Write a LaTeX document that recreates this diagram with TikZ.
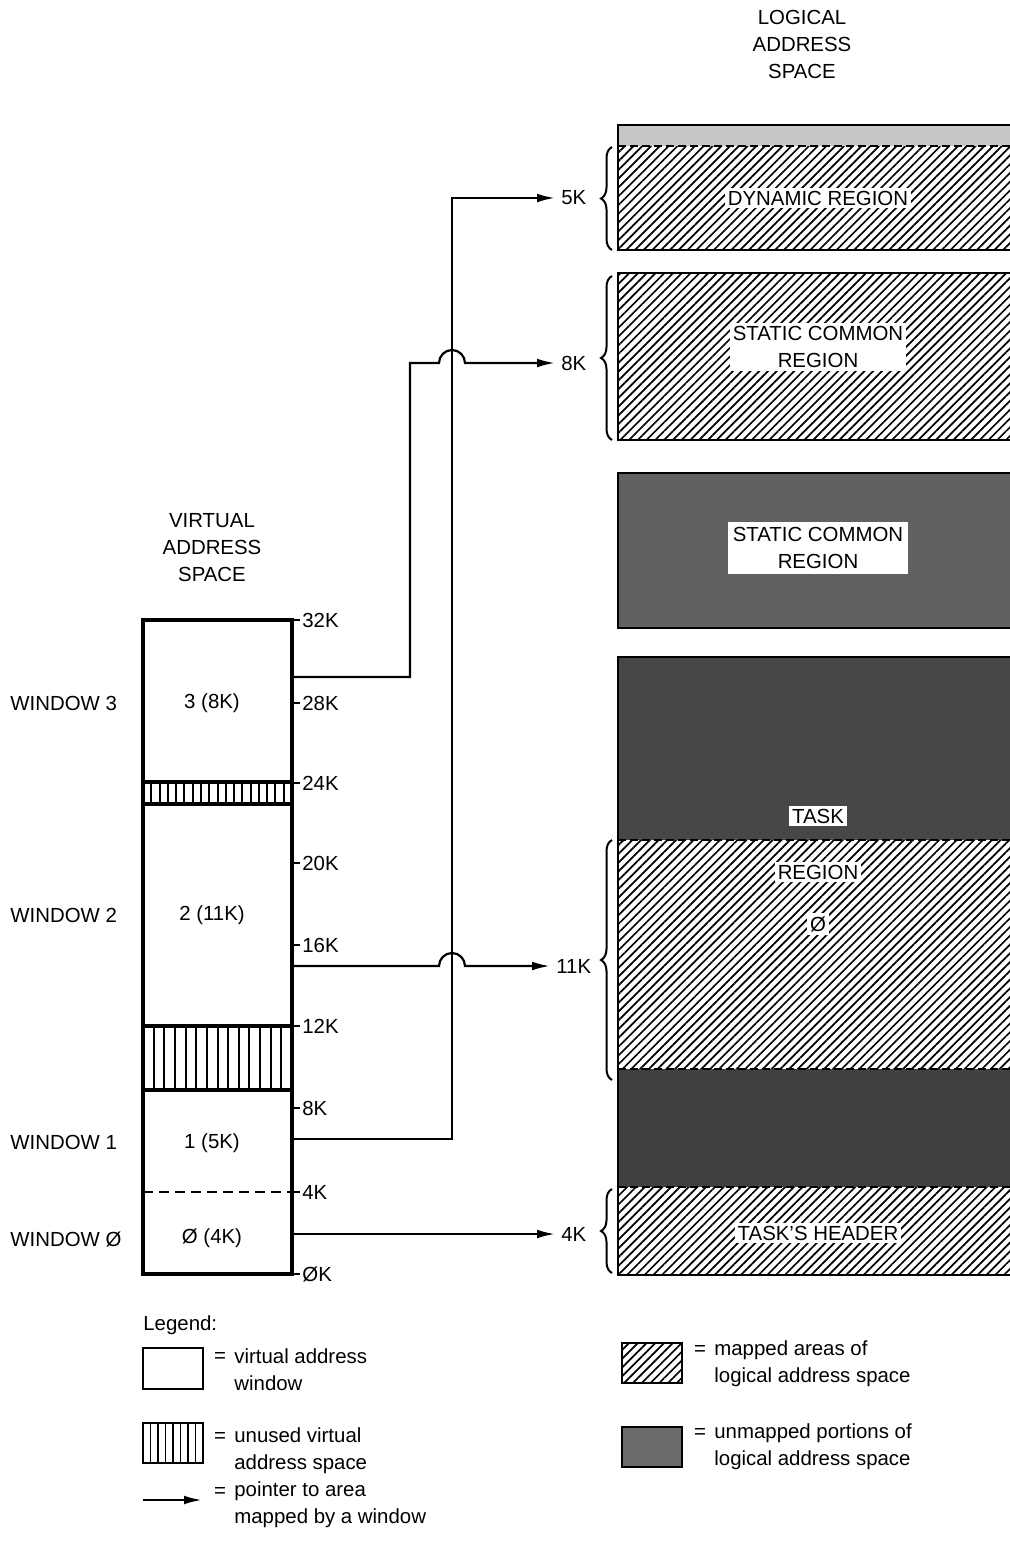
\documentclass[tikz,border=0pt]{standalone}
\usepackage{fontspec}
\setmainfont{Liberation Sans}
\usetikzlibrary{arrows.meta,patterns.meta,decorations.pathreplacing}
\begin{document}
\begin{tikzpicture}[x=0.5pt,y=-0.5pt,
  font=\fontsize{10.2}{13.5}\selectfont,
  every node/.style={inner sep=1pt},
  hatch/.style={pattern={Lines[angle=45,distance=3.1pt,line width=0.85pt]}},
  ptr/.style={line width=1.1pt,-{Latex[length=9pt,width=4.4pt]}},
  wire/.style={line width=1.1pt},
  vbox/.style={line width=1.6pt},
  lbox/.style={line width=1.4pt},
  onwhite/.style={fill=white,inner sep=1.5pt},
  brc/.style={decorate,decoration={brace,amplitude=5.5pt},line width=1pt},
  bnd/.style={dashed,dash pattern=on 4pt off 2pt,line width=1.2pt},
  klbl/.style={anchor=west,inner sep=3pt},
  tick/.style={anchor=west,inner sep=1pt}]
\useasboundingbox (0,0) rectangle (1010,1560);

% ---------- titles ----------
\node[align=center] (las) at (802,44) {LOGICAL\\ADDRESS\\SPACE};
\node[align=center] (vas) at (212,548) {VIRTUAL\\ADDRESS\\SPACE};

% ---------- logical address space ----------
% box 1: dynamic region
\fill[black!22] (618,125) rectangle (1010,146);
\fill[hatch] (618,146) rectangle (1010,250);
\draw[bnd] (618,146) -- (1010,146);
\draw[lbox] (1010,125) -- (618,125) -- (618,250) -- (1010,250);
\node[onwhite] (dyn) at (818,198) {DYNAMIC REGION};

% box 2: static common region (mapped)
\fill[hatch] (618,273) rectangle (1010,440);
\draw[lbox] (1010,273) -- (618,273) -- (618,440) -- (1010,440);
\node[onwhite,align=center] (scr1) at (818,347) {STATIC COMMON\\REGION};

% box 3: static common region (unmapped)
\fill[black!62] (618,473) rectangle (1010,628);
\draw[lbox] (1010,473) -- (618,473) -- (618,628) -- (1010,628);
\node[onwhite,align=center,inner sep=2.5pt] (scr2) at (818,548) {STATIC COMMON\\REGION};

% box 4: task region
\fill[black!72] (618,657) rectangle (1010,840);
\fill[hatch] (618,840) rectangle (1010,1069);
\fill[black!75] (618,1069) rectangle (1010,1187);
\fill[hatch] (618,1187) rectangle (1010,1275);
\draw[bnd] (618,840) -- (1010,840);
\draw[bnd] (618,1069) -- (1010,1069);
\draw[bnd] (618,1187) -- (1010,1187);
\draw[lbox] (1010,657) -- (618,657) -- (618,1275) -- (1010,1275);
\node[onwhite] (task) at (818,816) {TASK};
\node[onwhite] (region) at (818,872) {REGION};
\node[onwhite] (zero) at (818,924) {Ø};
\node[onwhite] (hdr) at (818,1233) {TASK’S HEADER};

% braces and size labels
\draw[brc] (612,250) -- (612,147);
\draw[brc] (612,440) -- (612,276);
\draw[brc] (612,1080) -- (612,840);
\draw[brc] (612,1273) -- (612,1189);
\node[klbl] (k5) at (555,198) {5K};
\node[klbl] (k8) at (555,363) {8K};
\node[klbl] (k11) at (550,966) {11K};
\node[klbl] (k4) at (555,1234) {4K};

% ---------- virtual address space ----------
\draw[vbox] (143,620) rectangle (292,1274);
% unused bars
\draw[vbox] (143,782) rectangle (292,804);
\foreach \i in {1,...,17} \draw[line width=1pt] ({143+\i*149/18},782) -- ({143+\i*149/18},804);
\draw[vbox] (143,1026) rectangle (292,1090);
\foreach \i in {1,...,13} \draw[line width=1pt] ({143+\i*149/14},1026) -- ({143+\i*149/14},1090);
\draw[dashed,dash pattern=on 5pt off 3pt,line width=1.1pt] (143,1192) -- (292,1192);

% ticks and labels
\foreach \yy/\t in {620/32K,703/28K,783/24K,863/20K,945/16K,1026/12K,1108/8K,1192/4K,1274/ØK} {
  \draw[wire] (292,\yy) -- (300,\yy);
  \node[tick] at (300,\yy) {\t};
}

% window contents
\node (c3) at (212,703) {3 (8K)};
\node (c2) at (212,915) {2 (11K)};
\node (c1) at (212,1143) {1 (5K)};
\node (c0) at (212,1238) {Ø (4K)};

\node[anchor=west] (wl3) at (8,703) {WINDOW 3};
\node[anchor=west] (wl2) at (8,915) {WINDOW 2};
\node[anchor=west] (wl1) at (8,1142) {WINDOW 1};
\node[anchor=west] (wl0) at (8,1239) {WINDOW Ø};

% connector start points
\coordinate (w3o) at (292,677);
\coordinate (w2o) at (292,966);
\coordinate (w1o) at (292,1139);
\coordinate (w0o) at (292,1234);

% pointers
\draw[ptr] (w1o) -- (452,1139) -- (452,198) -- (k5.west);
\draw[ptr] (w3o) -- (410,677) -- (410,363) -- (439,363)
   arc[start angle=180,end angle=0,radius=6.5pt] -- (k8.west);
\draw[ptr] (w2o) -- (439,966)
   arc[start angle=180,end angle=0,radius=6.5pt] -- (k11.west);
\draw[ptr] (w0o) -- (k4.west);

% ---------- legend ----------
\node[anchor=west] (leg) at (141,1325) {Legend:};
\draw[line width=1.3pt] (143,1348) rectangle (203,1389);
\node (eq1) at (220,1357) {=};
\node[anchor=west,align=left] (lt1) at (232,1370) {virtual address\\window};

\draw[line width=1.3pt] (143,1423) rectangle (203,1463);
\foreach \i in {1,...,7} \draw[line width=0.9pt] ({143+\i*60/8},1423) -- ({143+\i*60/8},1463);
\node (eq2) at (220,1437) {=};
\node[anchor=west,align=left] (lt2) at (232,1451) {unused virtual\\address space};

\coordinate (la) at (143,1500);
\coordinate (lb) at (202,1500);
\draw[ptr] (la) -- (lb);
\node (eq3) at (220,1492) {=};
\node[anchor=west,align=left] (lt3) at (232,1505) {pointer to area\\mapped by a window};

\fill[hatch] (622,1343) rectangle (682,1383);
\draw[line width=1.3pt] (622,1343) rectangle (682,1383);
\node (eq4) at (700,1350) {=};
\node[anchor=west,align=left] (lt4) at (712,1364) {mapped areas of\\logical address space};

\fill[black!58] (622,1427) rectangle (682,1467);
\draw[line width=1.3pt] (622,1427) rectangle (682,1467);
\node (eq5) at (700,1433) {=};
\node[anchor=west,align=left] (lt5) at (712,1447) {unmapped portions of\\logical address space};
\end{tikzpicture}
\end{document}
